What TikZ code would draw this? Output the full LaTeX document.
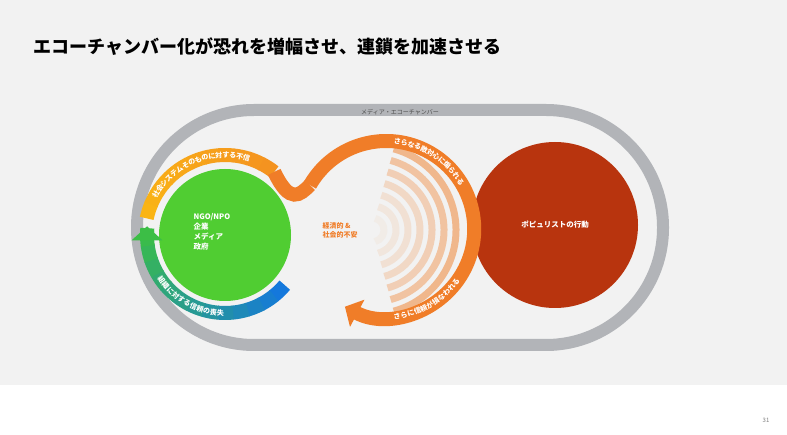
\documentclass[tikz,border=0pt]{standalone}
\usepackage{fontspec}
\setmainfont{Noto Sans CJK JP}
\usetikzlibrary{arrows.meta,decorations.text}
\definecolor{bgray}{RGB}{242,242,242}
\definecolor{trackgray}{RGB}{178,180,184}
\definecolor{popred}{RGB}{184,52,14}
\definecolor{orgband}{RGB}{240,125,40}
\definecolor{yelband}{RGB}{250,180,20}
\definecolor{grnband}{RGB}{60,190,70}
\definecolor{bluband}{RGB}{20,120,220}
\definecolor{grncirc}{RGB}{80,205,50}
\begin{document}
\begin{tikzpicture}[x=1pt,y=1pt,
        band/.style={line width=14pt},
        bandtext/.style={decorate,decoration={text along path,text align=center,raise=-2.5pt,
            text={|\bfseries\fontsize{7}{7}\selectfont\color{white}|#1}}},
        circtext/.style={text=white,font=\bfseries\fontsize{7.5}{10}\selectfont,align=left}
    ]
        % background
        \fill[bgray] (0,0) rectangle (787,-385);
        \fill[white] (0,-385) rectangle (787,-435);
        \useasboundingbox (0,0) rectangle (787,-435);
        \node[anchor=west,font=\bfseries\fontsize{18}{18}\selectfont] (title) at (30,-47) {エコーチャンバー化が恐れを増幅させ、連鎖を加速させる};
        \node[font=\fontsize{6}{6}\selectfont,text=gray] (page) at (766,-420) {31};

        % echo chamber track
        \draw[trackgray,line width=12pt,rounded corners=117pt] (137,-110) rectangle (663,-345);
        \node[font=\fontsize{6}{6}\selectfont,text=black!70] (chamber) at (400,-112) {メディア・エコーチャンバー};

        % circles
        \node[circle,fill=popred,minimum size=166pt] (pop) at (555,-225) {};
        \node[circtext] at (pop) {ポピュリストの行動};
        \node[circle,fill=grncirc,minimum size=132pt] (org) at (225,-235) {};
        \node[circtext,anchor=west] at (190,-232) {NGO/NPO\\企業\\メディア\\政府};

        % rings of anxiety
        \foreach \r/\o in {12/0.05,24/0.1,36/0.15,48/0.22,60/0.3,72/0.4,84/0.5} {
            \draw[orgband,opacity=\o,line width=7pt] (372,-230) ++(-75:\r) arc (-75:75:\r);
        }
        \node[text=orgband,font=\bfseries\fontsize{7}{9}\selectfont,align=left] (fear) at (340,-230) {経済的 \&\\社会的不安};

        % yellow band and S-neck
        \foreach \a in {0,...,10} {
            \pgfmathtruncatemacro{\mix}{100-\a*6}
            \draw[band,yelband!\mix!orgband] (225,-235) ++({168-\a*10.5}:80) arc ({168-\a*10.5}:{168-(\a+1)*10.5-0.5}:80);
        }
        \draw[band,orgband] (225,-235) ++(52:80) .. controls (290,-205) and (300,-195) .. (310,-185);
        % orange band with arrow
        \draw[band,orgband,-{Triangle[width=30pt,length=14pt]}] (310,-185) arc (150:-118:88);
        % green band with arrow
        \foreach \a in {0,...,12} {
            \pgfmathtruncatemacro{\mix}{\a*8}
            \draw[band,grnband!\mix!bluband] (225,-235) ++({-40-\a*11}:78) arc ({-40-\a*11}:{-40-(\a+1)*11-0.5}:78);
        }
        \draw[band,grnband,-{Triangle[width=30pt,length=14pt]}] (225,-235) ++(175:78) arc (175:178:78) -- ++(0,6);

        % band labels
        \path[bandtext=社会システムそのものに対する不信] (225,-235) ++(166:80) arc (166:58:80);
        \path[bandtext=さらなる敵対心に煽られる] (386,-229) ++(120:88) arc (120:-5:88);
        \path[bandtext=さらに信頼が損なわれる] (386,-229) ++(-105:88) arc (-105:-15:88);
        \path[bandtext=組織に対する信頼の喪失] (225,-235) ++(192:78) arc (192:290:78);
    \end{tikzpicture}
\end{document}
